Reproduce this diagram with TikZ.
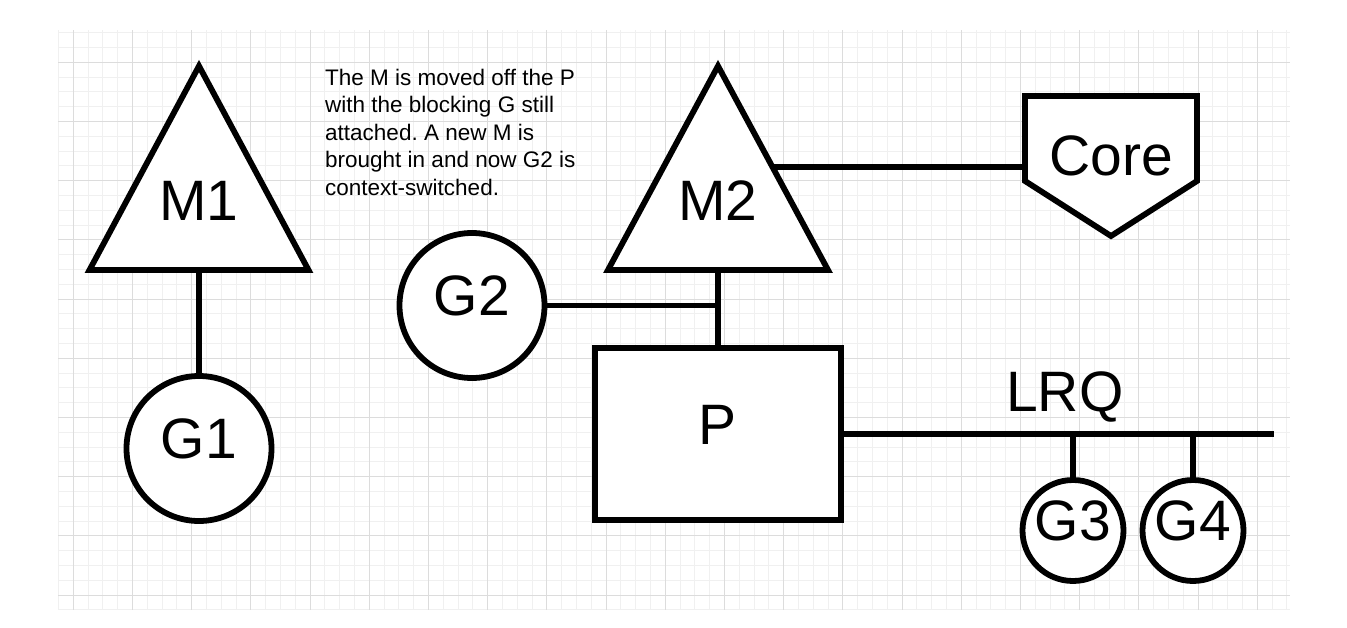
\documentclass[tikz,border=0pt]{standalone}
\usepackage{fontspec}
\setmainfont{Liberation Sans}
\definecolor{gridminor}{HTML}{F0F0F0}
\definecolor{gridmajor}{HTML}{DCDCDC}
\tikzset{
  shp/.style={draw=black, line width=5.8pt, fill=white, line join=miter},
  conn/.style={draw=black, line width=5.8pt},
  lbl/.style={font=\fontsize{57}{68}\selectfont, text height=41pt, text depth=21pt, inner sep=0pt, outer sep=0pt},
  gnode/.style={shp, circle, lbl, minimum size=145pt},
  smallg/.style={shp, circle, lbl, minimum size=101pt},
  pbox/.style={shp, rectangle, lbl, minimum width=246pt, minimum height=172pt},
  note/.style={font=\fontsize{22.5}{27.5}\selectfont, align=left, inner sep=0pt, anchor=north west},
  minorline/.style={draw=gridminor, line width=1pt},
  majorline/.style={draw=gridmajor, line width=1pt}
}
\begin{document}
\frenchspacing
\begin{tikzpicture}[x=1pt,y=-1pt]
\useasboundingbox (0,0) rectangle (1347,627);
\fill[white] (0,0) rectangle (1347,627);
% grid
\foreach \i in {0,...,83} {
  \pgfmathsetmacro\xx{58.5+14.8*\i}
  \draw[minorline] (\xx,30) -- (\xx,610);
}
\foreach \j in {0,...,39} {
  \pgfmathsetmacro\yy{32.7+14.8*\j}
  \draw[minorline] (58,\yy) -- (1290,\yy);
}
\foreach \i in {0,...,20} {
  \pgfmathsetmacro\xx{73.3+59.2*\i}
  \draw[majorline] (\xx,30) -- (\xx,610);
}
\foreach \j in {0,...,9} {
  \pgfmathsetmacro\yy{62.3+59.2*\j}
  \draw[majorline] (58,\yy) -- (1290,\yy);
}

% named points
\coordinate (M1b) at (199,270);
\coordinate (M2b) at (718,270);
\coordinate (M2r) at (772.6,167);
\coordinate (CoreL) at (1025,167);
\coordinate (J) at (718,305.5);
\coordinate (LRQend) at (1274,434);

% nodes
\node[gnode] (G1) at (199,448.5) {G1};
\node[gnode] (G2) at (472,305.5) {G2};
\node[pbox] (P) at (718,434) {P};
\node[smallg] (G3) at (1073,530.5) {G3};
\node[smallg] (G4) at (1193,530.5) {G4};

% connectors
\draw[conn] (M1b) -- (G1.north);
\draw[conn] (G2.east) -- (J);
\draw[conn] (M2b) -- (P.north);
\draw[conn] (M2r) -- (CoreL);
\draw[conn] (P.east) -- (LRQend);
\draw[conn] (G3.north |- LRQend) -- (G3.north);
\draw[conn] (G4.north |- LRQend) -- (G4.north);

% triangles and core
\draw[shp] (199,66) -- (308.5,270) -- (89.5,270) -- cycle;
\draw[shp] (718,66) -- (828,270) -- (608,270) -- cycle;
\draw[shp] (1025,96) -- (1197,96) -- (1197,181) -- (1111,236) -- (1025,181) -- cycle;
\node[lbl] (M1) at (199,210) {M1};
\node[lbl] (M2) at (718,210) {M2};
\node[lbl] (Core) at (1111,165.5) {Core};

\node[font=\fontsize{57}{68}\selectfont, inner sep=0pt, anchor=base west] (LRQ) at (1006,411) {LRQ};
\node[note] (Note) at (325,68.6) {The M is moved off the P\\with the blocking G still\\attached. A new M is\\brought in and now G2 is\\context-switched.};
\end{tikzpicture}
\end{document}
